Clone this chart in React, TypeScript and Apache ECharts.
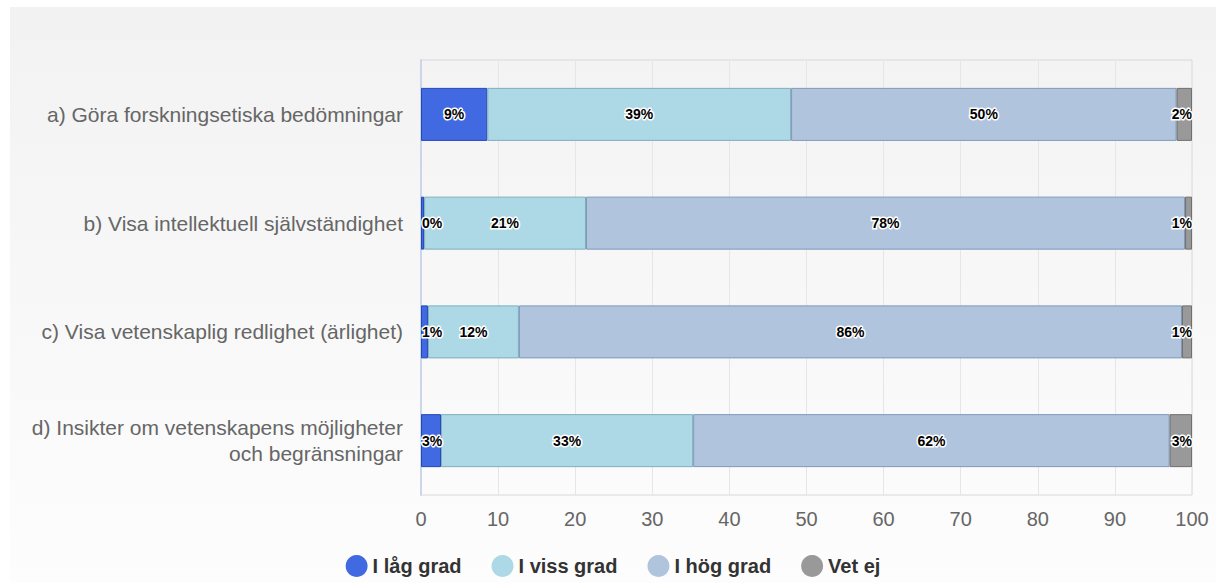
import React, { useEffect, useRef } from "react";
import * as echarts from "echarts";

const categories = [
  "a) Göra forskningsetiska bedömningar",
  "b) Visa intellektuell självständighet",
  "c) Visa vetenskaplig redlighet (ärlighet)",
  "d) Insikter om vetenskapens möjligheter\noch begränsningar",
];
const seriesNames = ["I låg grad", "I viss grad", "I hög grad", "Vet ej"];
const lowValues = [8.6, 0.4, 0.9, 2.6];
const someValues = [39.4, 21.0, 11.8, 32.7];
const highValues = [50.0, 77.7, 86.0, 61.8];
const dontKnowValues = [2.0, 0.9, 1.3, 2.9];
const xTicks = { min: 0, max: 100, interval: 10 };

const colors = ["#4169E1", "#ADD8E6", "#B0C4DE", "#999999"];
const borders = ["#2546b8", "#7eaebd", "#7f98b8", "#6f6f6f"];

const FONT = "'Liberation Sans', Arial, sans-serif";

export default function App() {
  const ref = useRef<HTMLDivElement>(null);
  useEffect(() => {
    if (!ref.current) return;
    const chart = echarts.init(ref.current, undefined, { renderer: "svg" });
    const valueSets = [lowValues, someValues, highValues, dontKnowValues];
    const labelBase = {
      show: true,
      fontFamily: FONT,
      fontSize: 14,
      fontWeight: "bold" as const,
      color: "#000",
      textBorderColor: "#fff",
      textBorderWidth: 3,
      formatter: (p: any) => Math.round(p.value) + "%",
    };
    const series = valueSets.map((vals, i) => ({
      name: seriesNames[i],
      type: "bar",
      stack: "total",
      barWidth: 53,
      itemStyle: { color: colors[i], borderColor: borders[i], borderWidth: 1 },
      label: {
        ...labelBase,
        position: i === 3 ? "insideRight" : "inside",
        distance: 0,
      },
      data: vals.map((v) => {
        if (i === 0 && v < 5) {
          return { value: v, label: { position: "insideLeft", distance: 1 } };
        }
        return v;
      }),
    }));
    chart.setOption({
      animation: false,
      backgroundColor: "transparent",
      textStyle: { fontFamily: FONT },
      grid: {
        left: 411,
        right: 24,
        top: 53,
        bottom: 88,
        show: true,
        borderColor: "#d8d8d8",
        borderWidth: 1,
        backgroundColor: "transparent",
      },
      legend: {
        top: 543,
        left: "center",
        icon: "circle",
        itemWidth: 22,
        itemHeight: 22,
        itemGap: 30,
        itemStyle: { borderWidth: 0 },
        textStyle: { fontFamily: FONT, fontSize: 20, fontWeight: "bold", color: "#333" },
        data: seriesNames,
      },
      xAxis: {
        type: "value",
        min: xTicks.min,
        max: xTicks.max,
        interval: xTicks.interval,
        axisLine: { show: false },
        axisTick: { show: false },
        splitLine: { show: true, lineStyle: { color: "#e6e6e6" } },
        axisLabel: { fontFamily: FONT, fontSize: 20, color: "#666", margin: 14 },
      },
      yAxis: {
        type: "category",
        inverse: true,
        data: categories,
        axisLine: { show: true, lineStyle: { color: "#ccd6eb", width: 2 } },
        axisTick: { show: false },
        axisLabel: {
          fontFamily: FONT,
          fontSize: 21,
          color: "#666",
          margin: 18,
          align: "right",
          lineHeight: 26,
        },
      },
      series,
    });
    return () => chart.dispose();
  }, []);
  return (
    <div
      style={{
        position: "absolute",
        left: 10,
        top: 7,
        width: 1206,
        height: 576,
        background: "linear-gradient(#f2f2f2, #fdfdfd)",
      }}
    >
      <div ref={ref} style={{ width: 1206, height: 576 }} />
    </div>
  );
}
